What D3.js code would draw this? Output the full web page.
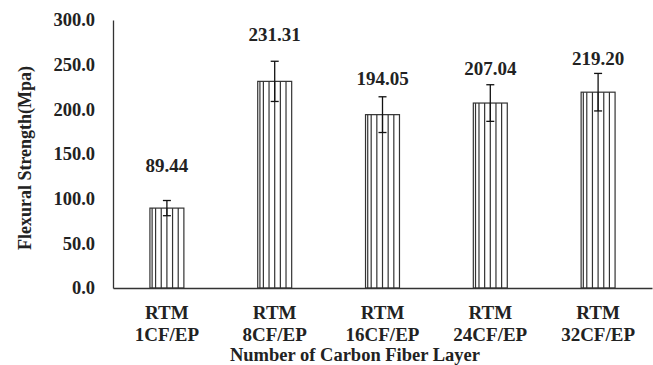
<!DOCTYPE html>
<html>
<head>
<meta charset="utf-8">
<script src="https://cdn.jsdelivr.net/npm/d3@7"></script>
<style>
  body { margin: 0; background: #fff; }
</style>
</head>
<body>
<svg id="chart" width="653" height="365"></svg>
<script>
// data
const categories = ['RTM 1CF/EP', 'RTM 8CF/EP', 'RTM 16CF/EP', 'RTM 24CF/EP', 'RTM 32CF/EP'];
const strength = [89.44, 231.31, 194.05, 207.04, 219.20];
const errors = [8.5, 22.5, 20, 20.5, 21];
const yTicks = [0, 50, 100, 150, 200, 250, 300];

const FONT = '"Liberation Serif", "Times New Roman", serif';
const svg = d3.select('#chart');
const plotLeft = 113, plotRight = 652, plotTop = 20, plotBottom = 288;

function txt(sel, size) {
    return sel.style('font-family', FONT).style('font-weight', 'bold')
        .style('font-size', size + 'px').style('fill', '#222');
}

const x = d3.scaleBand()
    .domain(categories)
    .range([plotLeft, plotRight])
    .paddingInner(0.685)
    .paddingOuter(0.3425);

const y = d3.scaleLinear()
    .domain([0, 300])
    .range([plotBottom, plotTop]);

// y axis
const yAxis = svg.append('g')
    .attr('transform', `translate(${plotLeft},0)`)
    .call(d3.axisLeft(y).tickValues(yTicks).tickSize(0).tickPadding(18).tickFormat(d3.format('.1f')));
yAxis.select('.domain').attr('stroke', '#333').attr('stroke-width', 1.3);
txt(yAxis.selectAll('text'), 18.5);

// bars
const bars = svg.append('g');
categories.forEach((c, i) => {
    const bx = x(c), bw = x.bandwidth();
    const g = bars.append('g');
    g.append('rect')
        .attr('x', bx).attr('y', y(strength[i]))
        .attr('width', bw).attr('height', y(0) - y(strength[i]))
        .attr('fill', '#fff').attr('stroke', '#333').attr('stroke-width', 1.2);
    // vertical stripe fill
    const stripes = d3.range(1, 6).map(k => bx + k * bw / 6);
    stripes.unshift(bx + 2.2);
    g.selectAll('line').data(stripes).join('line')
        .attr('x1', d => d).attr('x2', d => d)
        .attr('y1', y(strength[i])).attr('y2', y(0))
        .attr('stroke', '#333').attr('stroke-width', 1.2);
});

// x axis
const xAxis = svg.append('g')
    .attr('transform', `translate(0,${plotBottom})`)
    .call(d3.axisBottom(x).tickSize(0).tickFormat(''));
xAxis.select('.domain').attr('stroke', '#333').attr('stroke-width', 1.3);

// error bars
const eb = svg.append('g').attr('stroke', '#111').attr('stroke-width', 1.3);
categories.forEach((c, i) => {
    const cx = x(c) + x.bandwidth() / 2;
    const hi = y(strength[i] + errors[i]), lo = y(strength[i] - errors[i]);
    eb.append('line').attr('x1', cx).attr('x2', cx).attr('y1', hi).attr('y2', lo);
    eb.append('line').attr('x1', cx - 4).attr('x2', cx + 4).attr('y1', hi).attr('y2', hi);
    eb.append('line').attr('x1', cx - 4).attr('x2', cx + 4).attr('y1', lo).attr('y2', lo);
});

// value labels (placed by hand above each bar, as in the source)
const labelLift = [43, 47, 36, 35, 34];
txt(svg.append('g').selectAll('text').data(categories).join('text'), 19)
    .attr('x', c => x(c) + x.bandwidth() / 2)
    .attr('y', (c, i) => y(strength[i]) - labelLift[i])
    .attr('dy', '0.35em')
    .attr('text-anchor', 'middle')
    .text((c, i) => strength[i].toFixed(2));

// category labels, two lines
const catLabels = txt(svg.append('g').selectAll('text').data(categories).join('text'), 19)
    .attr('text-anchor', 'middle');
catLabels.each(function (c) {
    const parts = c.split(' ');
    const t = d3.select(this);
    parts.forEach((p, k) => {
        t.append('tspan')
            .attr('x', x(c) + x.bandwidth() / 2)
            .attr('y', 319 + k * 22)
            .text(p);
    });
});

// axis titles
txt(svg.append('text'), 18.5)
    .attr('x', 355).attr('y', 361)
    .attr('text-anchor', 'middle')
    .text('Number of Carbon Fiber Layer');

txt(svg.append('text'), 18)
    .attr('transform', 'translate(31,158) rotate(-90)')
    .attr('text-anchor', 'middle')
    .text('Flexural Strength(Mpa)');
</script>
</body>
</html>
